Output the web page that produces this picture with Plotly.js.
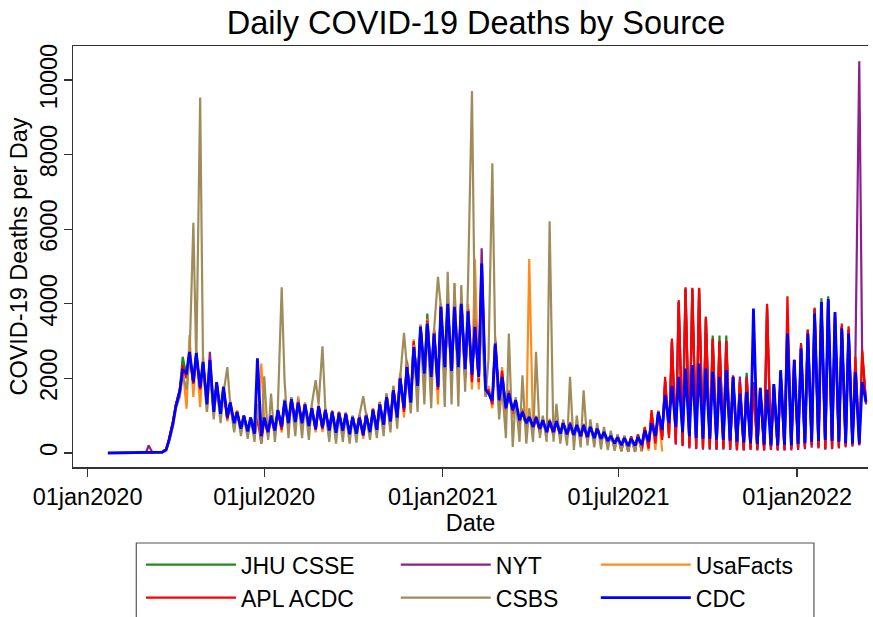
<!DOCTYPE html>
<html>
<head>
<meta charset="utf-8">
<script src="https://cdn.plot.ly/plotly-3.0.1.min.js"></script>
<style>html,body{margin:0;padding:0;background:#fff;}#chart{width:873px;height:617px;}</style>
</head>
<body>
<div id="chart"></div>
<script>
// Sampling schedule: two readings per week starting 2020-01-22 (weekly peak, then weekend low 4 days later)
const startDate = '2020-01-22';

// CDC (blue)
const cdc = [
0,0, 0,0, 0,0, 0,0, 0,0, 0,0, 0,0, 0,0,
20,90, 350,800, 1250,1650, 2220,2150, 2710,1900, 2680,1750, 2440,1300, 2500,1100, 1900,1050, 1770,950,
1350,800, 1100,650, 1000,580, 950,520, 2540,450, 950,560, 1000,600, 1150,700, 1400,800, 1440,830,
1350,800, 1300,720, 1200,640, 1250,680, 1150,600, 1100,540, 1060,600, 1050,500, 960,520, 950,480,
1000,560, 1150,620, 1300,760, 1500,840, 1680,950, 2000,1200, 2300,1350, 2840,1800, 3380,2130, 3470,2040,
3200,1770, 3920,2300, 4000,2200, 3920,2300, 4000,2250, 3800,2100, 3380,2040, 5080,1700, 1600,1400, 2935,1414,
2040,1200, 1600,1145, 1414,877, 1100,800, 966,700, 950,650, 880,560, 850,560, 850,520, 800,500,
780,480, 750,450, 740,430, 700,400, 650,380, 560,320, 460,260, 420,210, 400,190, 380,200,
430,220, 600,300, 800,450, 1100,620, 1550,800, 1800,700, 2040,550, 2264,450, 2355,400, 2400,380,
2264,380, 2175,350, 2040,350, 2220,330, 2040,300, 1594,280, 1640,260, 3870,240, 1730,220, 1700,200,
1850,200, 2220,220, 3200,200, 2490,240, 2800,260, 3200,300, 3740,320, 4050,350, 4130,330, 3780,300,
3340,260, 3200,250, 2170,250, 1900,1370
];

// APL ACDC (red)
const apl = [
0,0, 0,0, 0,0, 0,0, 0,0, 0,0, 0,0, 0,0,
25,100, 380,850, 1300,1700, 2350,2000, 2650,1850, 2600,1700, 2400,1350, 2450,1050, 1850,1000, 1700,900,
1350,700, 1100,600, 1000,520, 900,480, 950,250, 900,500, 1000,550, 1150,620, 1380,750, 1450,800,
1420,760, 1300,680, 1200,620, 1250,640, 1150,560, 1120,500, 1100,560, 1050,470, 980,500, 1000,460,
1050,520, 1180,600, 1350,700, 1550,800, 1750,900, 2050,1100, 2450,1300, 3000,1700, 3400,1950, 3550,1900,
3300,1700, 3950,2000, 4050,2050, 3900,2100, 4150,2000, 3850,1900, 3600,1900, 4800,1600, 1700,1300, 3000,1300,
2200,1150, 1650,1050, 1400,800, 1150,700, 1000,620, 980,560, 900,500, 880,480, 870,450, 830,430,
820,400, 800,380, 780,350, 750,320, 700,280, 600,180, 520,120, 480,60, 460,40, 450,40,
500,60, 700,120, 1150,250, 1100,350, 2040,400, 3070,250, 4100,200, 4440,150, 4430,120, 4430,120,
3650,110, 3070,100, 3000,120, 3000,100, 2085,90, 1900,80, 2000,100, 1800,90, 1750,80, 4000,100,
1800,80, 2100,90, 4200,100, 2500,110, 2900,150, 3300,200, 3870,150, 4000,100, 4100,120, 3740,150,
3470,180, 3400,200, 2580,200, 2760,1330
];

// JHU CSSE (green)
const jhu = [
0,0, 0,0, 0,0, 0,0, 0,0, 0,0, 0,0, 0,0,
25,90, 360,820, 1280,1680, 2580,2050, 2700,1880, 2650,1720, 2420,1320, 2480,1080, 1880,1020, 1750,930,
1360,760, 1120,640, 1000,560, 950,500, 1200,420, 930,540, 1000,580, 1150,680, 1400,780, 1450,820,
1380,780, 1300,700, 1200,630, 1250,660, 1150,580, 1100,520, 1080,580, 1050,490, 970,510, 980,470,
1030,540, 1170,610, 1330,740, 1560,820, 1720,930, 2050,1150, 2400,1320, 2950,1750, 3400,2050, 3740,1950,
3250,1750, 3960,2100, 4050,2150, 3950,2200, 4100,2150, 3850,2000, 3500,1950, 4900,1650, 1650,1350, 2950,1350,
2100,1180, 1650,1080, 1400,830, 1120,750, 980,660, 960,600, 890,530, 870,520, 860,480, 820,460,
800,440, 780,410, 760,390, 730,360, 680,330, 580,250, 490,190, 450,130, 430,110, 420,110,
470,130, 650,200, 1000,330, 1100,450, 1900,500, 3000,300, 4050,250, 4400,200, 4400,150, 4400,150,
3650,130, 3150,120, 3150,130, 3150,120, 2050,110, 1950,100, 2150,120, 1900,110, 1750,100, 3900,110,
1850,100, 2200,110, 3500,120, 2500,130, 2900,170, 3300,220, 3900,170, 4150,130, 4200,140, 3650,170,
3400,200, 3300,220, 2500,220, 2700,1350
];

// NYT (purple)
const nyt = [
0,0, 0,0, 0,0, 0,0, 0,0, 0,0, 200,0, 0,0,
20,95, 370,830, 1290,1690, 2250,2020, 2700,1870, 2700,1730, 2430,1310, 2710,1070, 1890,1010, 1760,920,
1350,750, 1110,630, 1000,550, 950,490, 1300,400, 940,530, 1000,570, 1150,670, 1400,770, 1460,810,
1380,770, 1310,690, 1220,620, 1260,650, 1160,570, 1120,510, 1100,570, 1070,480, 980,500, 1000,460,
1040,530, 1190,520, 1320,600, 1550,650, 1720,880, 2050,1120, 2400,1300, 2950,1700, 3420,1900, 3600,1850,
3250,1700, 4000,1950, 4100,2000, 3950,2050, 4100,2000, 3850,1950, 3500,1900, 5490,1600, 1700,1300, 3000,1300,
2150,1100, 1650,1050, 1420,800, 1130,720, 990,640, 970,580, 900,510, 880,500, 870,460, 830,440,
810,420, 790,390, 770,370, 740,340, 690,300, 590,220, 500,160, 460,110, 440,90, 430,90,
480,110, 660,180, 1050,300, 1120,420, 1950,480, 3000,220, 4050,180, 4400,120, 4400,100, 4400,90,
3600,90, 3050,80, 3000,90, 3000,80, 2050,70, 2050,60, 2050,80, 1900,70, 1750,60, 3900,80,
1800,60, 2150,60, 3400,70, 2500,80, 2950,100, 3300,140, 3850,120, 4050,90, 4100,100, 3650,120,
3400,150, 3300,170, 2490,10500, 2600,1300
];

// UsaFacts (orange)
const usafacts = [
0,0, 0,0, 0,0, 0,0, 0,0, 0,0, 0,0, 0,0,
20,90, 340,800, 1250,1650, 2300,1190, 3160,1500, 2750,1230, 2600,1100, 2500,1010, 1900,900, 1800,850,
1400,650, 1150,550, 1000,480, 950,420, 900,2400, 900,420, 1000,450, 1150,550, 1450,650, 1500,700,
1520,650, 1350,600, 1250,550, 1300,560, 1200,480, 1150,430, 1100,480, 1100,400, 1000,420, 1000,380,
1080,450, 1200,500, 1380,620, 1600,700, 1800,800, 2150,950, 2500,1100, 3050,1450, 3450,1700, 3600,1600,
3350,1300, 4000,1800, 4200,1800, 4550,1900, 4200,1900, 4000,1700, 5200,1700, 4500,1500, 1800,1200, 3100,1200,
2300,1050, 1700,950, 1450,700, 1200,620, 5200,550, 1000,500, 950,450, 920,420, 900,400, 850,380,
830,360, 800,330, 780,310, 750,290, 700,250, 600,150, 500,100, 460,50, 440,30, 430,30,
480,40, 650,60, 1000,80, 1150,40
];

// CSBS (tan)
const csbs = [
0,0, 0,0, 0,0, 0,0, 0,0, 0,0, 0,0, 0,0,
10,60, 300,700, 1200,1500, 2100,1700, 2500,6170, 2400,9530, 2300,1100, 2300,900, 1800,800, 1600,2300,
1300,550, 1100,450, 1000,380, 950,300, 1300,250, 2058,350, 1594,300, 1200,4440, 1905,400, 1500,450,
1450,400, 1350,350, 1300,1950, 1300,2860, 1150,300, 1100,250, 1050,300, 1050,250, 1000,280, 1000,1520,
1050,350, 1150,400, 1350,450, 1600,550, 1800,650, 2000,3220, 2300,1060, 2900,1100, 3400,1300, 3500,1200,
3300,4720, 3900,1234, 4860,1300, 4550,1250, 4500,1640, 4590,9705, 3400,2000, 3500,1500, 2500,7765, 2800,900,
1800,400, 3200,160, 1500,300, 2085,250, 1200,300, 2710,400, 1000,300, 6215,300, 1320,250, 900,200,
2040,80, 1000,150, 1680,200, 900,150, 800,100, 700,80, 600,60, 500,40, 450,40, 400,30,
450,40
];

const seriesNames = ['JHU CSSE', 'NYT', 'UsaFacts', 'APL ACDC', 'CSBS', 'CDC'];
const seriesColors = ['#1f8a1f', '#8c1f8c', '#ff8c1a', '#ff0000', '#a08c5a', '#0000ff'];
const tickDates = ['2020-01-01', '2020-07-01', '2021-01-01', '2021-07-01', '2022-01-01'];
const tickLabels = ['01jan2020', '01jul2020', '01jan2021', '01jul2021', '01jan2022'];
const yTicks = [0, 2000, 4000, 6000, 8000, 10000];

function sampleDates(n) {
  const base = new Date(startDate + 'T00:00:00Z').getTime();
  const out = [];
  for (let i = 0; i < n; i++) {
    const w = Math.floor(i / 2);
    const off = 7 * w + (i % 2 ? 4 : 0);
    out.push(new Date(base + off * 86400000).toISOString().slice(0, 10));
  }
  return out;
}

const FONT = 'Liberation Sans, Arial, Helvetica, sans-serif';
const seriesData = [jhu, nyt, usafacts, apl, csbs, cdc];
const legendOf = ['legend', 'legend2', 'legend3', 'legend', 'legend2', 'legend3'];
const traces = seriesData.map((vals, k) => ({
  type: 'scatter', mode: 'lines',
  x: sampleDates(vals.length), y: vals,
  name: seriesNames[k],
  line: {color: seriesColors[k], width: k === 5 ? 2.8 : 2.2},
  legend: legendOf[k],
  hoverinfo: 'skip'
}));
const ranks = [1, 1, 1, 2, 2, 2];
traces.forEach((t, k) => t.legendrank = ranks[k]);

function legendCfg(x) {
  return {x: x, xref: 'paper', xanchor: 'left', y: -0.181, yref: 'paper', yanchor: 'top',
    orientation: 'v', font: {family: FONT, size: 23, color: '#000'},
    bgcolor: 'rgba(0,0,0,0)', borderwidth: 0, itemwidth: 90, tracegroupgap: 0};
}

const layout = {
  width: 873, height: 617,
  margin: {l: 73, r: 5, t: 46, b: 150, autoexpand: false},
  paper_bgcolor: '#fff', plot_bgcolor: '#fff',
  font: {family: FONT, color: '#000'},
  title: {text: 'Daily COVID-19 Deaths by Source', font: {family: FONT, size: 32.5, color: '#000'},
    x: 0.507, xref: 'paper', xanchor: 'center', y: 0.963, yref: 'container', yanchor: 'middle'},
  xaxis: {
    type: 'date', range: ['2019-12-17', '2022-03-15'],
    tickmode: 'array', tickvals: tickDates, ticktext: tickLabels,
    ticks: 'outside', ticklen: 8, tickwidth: 1.3, tickcolor: '#333',
    showline: true, linecolor: '#333', linewidth: 1.5, mirror: true,
    showgrid: false, zeroline: false,
    tickfont: {family: FONT, size: 23.5, color: '#000'}, ticklabelstandoff: 0,
    title: {text: 'Date', font: {family: FONT, size: 23.5, color: '#000'}, standoff: 0}
  },
  yaxis: {
    range: [-376, 10912],
    tickmode: 'array', tickvals: yTicks, ticktext: yTicks.map(String), tickangle: -90,
    ticks: 'outside', ticklen: 8, tickwidth: 1.3, tickcolor: '#333',
    showline: true, linecolor: '#333', linewidth: 1.5, mirror: false,
    showgrid: false, zeroline: false,
    tickfont: {family: FONT, size: 23.5, color: '#000'}, ticklabelstandoff: -3,
    title: {text: 'COVID-19 Deaths per Day', font: {family: FONT, size: 23.5, color: '#000'}, standoff: 2}
  },
  legend: legendCfg(0.0855),
  legend2: legendCfg(0.406),
  legend3: legendCfg(0.6576),
  shapes: [{type: 'rect', xref: 'paper', yref: 'paper', x0: 0.0796, x1: 0.932, y0: -0.1805, y1: -0.42,
    line: {color: '#555', width: 1.2}, fillcolor: 'rgba(0,0,0,0)'}],
  showlegend: true
};

Plotly.newPlot('chart', traces, layout, {displayModeBar: false, staticPlot: true});
</script>
</body>
</html>
